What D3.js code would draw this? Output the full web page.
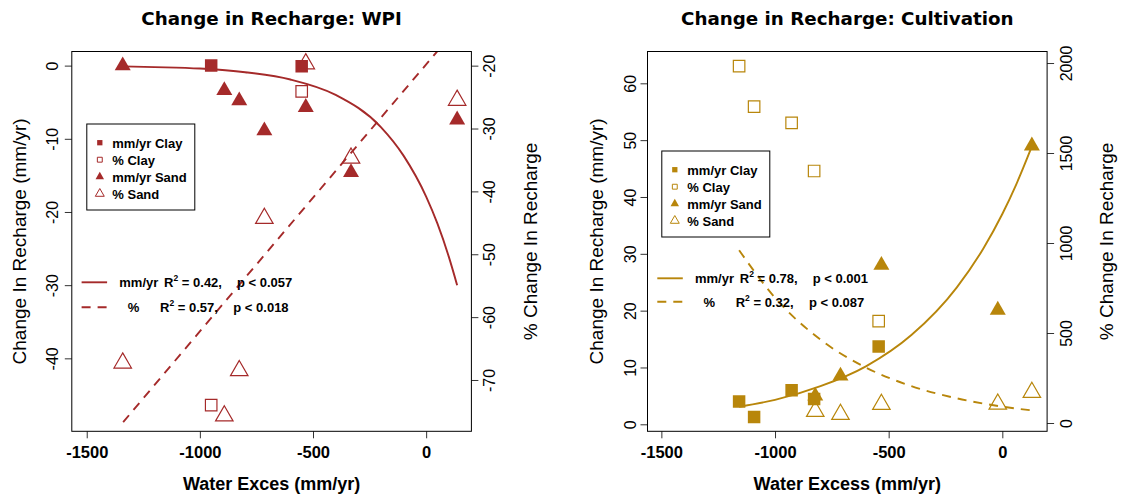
<!DOCTYPE html>
<html>
<head>
<meta charset="utf-8">
<script src="https://cdn.jsdelivr.net/npm/d3@7"></script>
<style>
    body { margin: 0; background: #fff; }
    svg text { font-family: "Liberation Sans", Arial, sans-serif; fill: #000; }
</style>
</head>
<body>
<div id="chart"></div>
<script>
var xTicks = [-1500, -1000, -500, 0];
var legendLabels = ["mm/yr Clay", "% Clay", "mm/yr Sand", "% Sand"];
var statLabels = ["mm/yr", "%"];

// WPI panel
var wpiYTicks = [0, -10, -20, -30, -40];
var wpiY2Ticks = [-20, -30, -40, -50, -60, -70];
var wpiClayX = [-950, -550];
var wpiClayMm = [0, -0.1];
var wpiClayPct = [-74.0, -24.1];
var wpiSandX = [-1341, -892, -826, -715, -532, -332, 137];
var wpiSandMm = [0, -3.4, -4.8, -8.9, -5.7, -14.6, -7.4];
var wpiSandPct = [-67.3, -75.7, -68.5, -44.3, -19.7, -34.7, -25.5];
var wpiFitMmX = [-1340, -1200, -1000, -800, -600, -400, -200, -100, 0, 50, 100, 137];
var wpiFitMm = [-0.1, -0.2, -0.4, -0.9, -1.9, -4.0, -8.4, -12.3, -17.9, -21.6, -26.1, -30];
var wpiFitPctX = [-1339, -700, 137];
var wpiFitPct = [-76.7, -49.5, -14.0];
var wpiR2 = ["0.42", "0.57"];
var wpiP = ["0.057", "0.018"];

// Cultivation panel
var cultYTicks = [0, 10, 20, 30, 40, 50, 60];
var cultY2Ticks = [0, 500, 1000, 1500, 2000];
var cultClayX = [-1158, -1092, -927, -828, -544];
var cultClayMm = [4.0, 1.3, 6.0, 4.45, 13.7];
var cultClayPct = [1983, 1758, 1667, 1400, 566];
var cultSandX = [-823, -712, -532, -20, 130];
var cultSandMm = [5.0, 8.5, 28.0, 20.1, 49.0];
var cultSandPct = [65, 48, 104, 105, 170];
var cultFitMmX = [-1158, -1000, -800, -600, -400, -200, -84, 0, 60, 130];
var cultFitMm = [3.1, 4.3, 6.7, 10.2, 15.7, 24.1, 30.9, 37.0, 42.1, 48.9];
var cultFitPctX = [-1158, -1000, -800, -600, -400, -200, 0, 130];
var cultFitPct = [960, 696, 463, 308, 205, 137, 91, 70];
var cultR2 = ["0.78", "0.32"];
var cultP = ["0.001", "0.087"];

var svg = d3.select("#chart")
    .append("svg")
        .attr("width", 1128)
        .attr("height", 502);

svg.append("rect").attr("width", 1128).attr("height", 502).attr("fill", "#fff");

function zip(xs, ys) {
    return xs.map(function(v, i) { return [v, ys[i]]; });
}

function drawPanel(p) {
    var g = svg.append("g");
    var x = d3.scaleLinear().domain(p.xDomain).range([p.x0, p.x1]);
    var y = d3.scaleLinear().domain(p.yDomain).range([p.y1, p.y0]);
    var y2 = d3.scaleLinear().domain(p.y2Domain).range([p.y1, p.y0]);
    var fmt = function(d) { return String(d); };

    svg.append("clipPath").attr("id", p.id + "-clip")
        .append("rect")
        .attr("x", p.x0).attr("y", p.y0)
        .attr("width", p.x1 - p.x0).attr("height", p.y1 - p.y0);

    // title
    g.append("text")
        .attr("x", (p.x0 + p.x1) / 2)
        .attr("y", 25)
        .attr("text-anchor", "middle")
        .style("font-family", "'DejaVu Sans', sans-serif")
        .style("font-size", "18.3px")
        .style("font-weight", "bold")
        .text(p.title);

    // x axis
    var xa = g.append("g")
        .attr("transform", "translate(0," + p.y1 + ")")
        .call(d3.axisBottom(x).tickValues(xTicks).tickFormat(fmt).tickSize(7).tickSizeOuter(0));
    xa.select(".domain").remove();
    xa.selectAll("text")
        .attr("y", 27).attr("dy", 0)
        .style("font-size", "16.5px")
        .style("font-weight", "bold");

    // left axis
    var ya = g.append("g")
        .attr("transform", "translate(" + p.x0 + ",0)")
        .call(d3.axisLeft(y).tickValues(p.yTicks).tickFormat(fmt).tickSize(7).tickSizeOuter(0));
    ya.select(".domain").remove();
    ya.selectAll("text")
        .attr("transform", "rotate(-90)")
        .attr("x", 0).attr("dy", 0)
        .attr("y", -p.lOff + 5.8)
        .attr("text-anchor", "middle")
        .style("font-size", "16px");

    // right axis
    var y2a = g.append("g")
        .attr("transform", "translate(" + p.x1 + ",0)")
        .call(d3.axisRight(y2).tickValues(p.y2Ticks).tickFormat(fmt).tickSize(7).tickSizeOuter(0));
    y2a.select(".domain").remove();
    y2a.selectAll("text")
        .attr("transform", "rotate(-90)")
        .attr("x", 0).attr("dy", 0)
        .attr("y", p.rOff + 5.8)
        .attr("text-anchor", "middle")
        .style("font-size", "16px");

    g.selectAll(".tick line").attr("stroke", "#333");

    // axis titles
    g.append("text")
        .attr("x", (p.x0 + p.x1) / 2)
        .attr("y", 490)
        .attr("text-anchor", "middle")
        .style("font-size", "18px")
        .style("font-weight", "bold")
        .text(p.xLabel);

    g.append("text")
        .attr("transform", "translate(" + p.lLabelX + "," + ((p.y0 + p.y1) / 2) + ") rotate(-90)")
        .attr("text-anchor", "middle")
        .style("font-size", "19px")
        .text("Change In Recharge (mm/yr)");

    g.append("text")
        .attr("transform", "translate(" + p.rLabelX + "," + ((p.y0 + p.y1) / 2) + ") rotate(-90)")
        .attr("text-anchor", "middle")
        .style("font-size", "19px")
        .text("% Change In Recharge");

    // fitted curves
    var plot = g.append("g").attr("clip-path", "url(#" + p.id + "-clip)");
    var lineMm = d3.line().x(function(d) { return x(d[0]); }).y(function(d) { return y(d[1]); })
        .curve(d3.curveMonotoneX);
    var linePct = d3.line().x(function(d) { return x(d[0]); }).y(function(d) { return y2(d[1]); })
        .curve(d3.curveMonotoneX);

    plot.append("path")
        .datum(zip(p.fitMmX, p.fitMm))
        .attr("d", lineMm)
        .attr("fill", "none")
        .attr("stroke", p.colour)
        .attr("stroke-width", 1.9);

    plot.append("path")
        .datum(zip(p.fitPctX, p.fitPct))
        .attr("d", linePct)
        .attr("fill", "none")
        .attr("stroke", p.colour)
        .attr("stroke-width", 1.9)
        .attr("stroke-dasharray", "9,7");

    var sqFill = d3.symbol(d3.symbolSquare, 12.5 * 12.5);
    var sqOpen = d3.symbol(d3.symbolSquare, 11.5 * 11.5);
    var trFill = d3.symbol(d3.symbolTriangle, 0.433 * 16 * 16);
    var trOpen = d3.symbol(d3.symbolTriangle, 0.433 * 17.5 * 17.5);

    // points
    plot.selectAll(".clay-mm")
        .data(zip(p.clayX, p.clayMm))
        .enter().append("path")
        .attr("transform", function(d) { return "translate(" + x(d[0]) + "," + y(d[1]) + ")"; })
        .attr("d", sqFill)
        .attr("fill", p.colour);

    plot.selectAll(".sand-mm")
        .data(zip(p.sandX, p.sandMm))
        .enter().append("path")
        .attr("transform", function(d) { return "translate(" + x(d[0]) + "," + y(d[1]) + ")"; })
        .attr("d", trFill)
        .attr("fill", p.colour);

    plot.selectAll(".clay-pct")
        .data(zip(p.clayX, p.clayPct))
        .enter().append("path")
        .attr("transform", function(d) { return "translate(" + x(d[0]) + "," + y2(d[1]) + ")"; })
        .attr("d", sqOpen)
        .attr("fill", "none")
        .attr("stroke", p.colour)
        .attr("stroke-width", 1.2);

    plot.selectAll(".sand-pct")
        .data(zip(p.sandX, p.sandPct))
        .enter().append("path")
        .attr("transform", function(d) { return "translate(" + x(d[0]) + "," + y2(d[1]) + ")"; })
        .attr("d", trOpen)
        .attr("fill", "none")
        .attr("stroke", p.colour)
        .attr("stroke-width", 1.2);

    // plot box
    g.append("rect")
        .attr("x", p.x0).attr("y", p.y0)
        .attr("width", p.x1 - p.x0).attr("height", p.y1 - p.y0)
        .attr("fill", "none")
        .attr("stroke", "#000")
        .attr("stroke-width", 1);

    // symbol legend
    var lg = g.append("g").attr("transform", "translate(" + p.legX + "," + p.legY + ")");
    lg.append("rect")
        .attr("width", 108).attr("height", 86)
        .attr("fill", "#fff")
        .attr("stroke", "#000");
    var legSyms = [
        { d: d3.symbol(d3.symbolSquare, 28)(), fill: p.colour, stroke: "none" },
        { d: d3.symbol(d3.symbolSquare, 24)(), fill: "none", stroke: p.colour },
        { d: d3.symbol(d3.symbolTriangle, 0.433 * 72)(), fill: p.colour, stroke: "none" },
        { d: d3.symbol(d3.symbolTriangle, 0.433 * 80)(), fill: "none", stroke: p.colour }
    ];
    legendLabels.forEach(function(lab, i) {
        var ry = 18.7 + i * 17;
        lg.append("path")
            .attr("transform", "translate(13," + ry + ")")
            .attr("d", legSyms[i].d)
            .attr("fill", legSyms[i].fill)
            .attr("stroke", legSyms[i].stroke)
            .attr("stroke-width", 1);
        lg.append("text")
            .attr("x", 25.5).attr("y", ry + 4.8)
            .style("font-size", "13px")
            .style("font-weight", "bold")
            .text(lab);
    });

    // fit legend
    statLabels.forEach(function(lab, i) {
        var ry = p.statY[i];
        var sg = g.append("g").attr("transform", "translate(" + p.x0 + "," + ry + ")");
        var ln = sg.append("line")
            .attr("x1", 9.8).attr("x2", 35.3)
            .attr("y1", 0).attr("y2", 0)
            .attr("stroke", p.colour)
            .attr("stroke-width", 1.9);
        if (i == 1) ln.attr("stroke-dasharray", "9,7");

        var t = sg.append("text")
            .attr("y", 4.8)
            .style("font-size", "13px")
            .style("font-weight", "bold");
        t.append("tspan").attr("x", i == 0 ? 47.5 : 56).text(lab);
        t.append("tspan").attr("x", i == 0 ? 92.3 : 88.2).text("R");
        t.append("tspan").attr("dy", -6).style("font-size", "8.5px").text("2");
        t.append("tspan").attr("dy", 6).text(" = " + p.r2[i] + ",");
        t.append("tspan").attr("x", i == 0 ? 165.2 : 161.5).text("p < " + p.pv[i]);
    });
}

drawPanel({
    id: "wpi",
    title: "Change in Recharge: WPI",
    xLabel: "Water Exces (mm/yr)",
    colour: "#A52A2A",
    x0: 71.8, x1: 471.4, y0: 51.5, y1: 431.3,
    xDomain: [-1566, 200],
    yDomain: [-49.97, 1.93],
    y2Domain: [-78.16, -17.75],
    yTicks: wpiYTicks,
    y2Ticks: wpiY2Ticks,
    lOff: 20, rOff: 17.5,
    lLabelX: 26, rLabelX: 537,
    clayX: wpiClayX, clayMm: wpiClayMm, clayPct: wpiClayPct,
    sandX: wpiSandX, sandMm: wpiSandMm, sandPct: wpiSandPct,
    fitMmX: wpiFitMmX, fitMm: wpiFitMm,
    fitPctX: wpiFitPctX, fitPct: wpiFitPct,
    r2: wpiR2, pv: wpiP,
    legX: 86.8, legY: 124,
    statY: [282.3, 307.3]
});

drawPanel({
    id: "cult",
    title: "Change in Recharge: Cultivation",
    xLabel: "Water Excess (mm/yr)",
    colour: "#B8860B",
    x0: 647.5, x1: 1047.1, y0: 51.5, y1: 431.3,
    xDomain: [-1561, 197],
    yDomain: [-1.23, 65.6],
    y2Domain: [-46.1, 2064],
    yTicks: cultYTicks,
    y2Ticks: cultY2Ticks,
    lOff: 17, rOff: 18.7,
    lLabelX: 603, rLabelX: 1113,
    clayX: cultClayX, clayMm: cultClayMm, clayPct: cultClayPct,
    sandX: cultSandX, sandMm: cultSandMm, sandPct: cultSandPct,
    fitMmX: cultFitMmX, fitMm: cultFitMm,
    fitPctX: cultFitPctX, fitPct: cultFitPct,
    r2: cultR2, pv: cultP,
    legX: 661.8, legY: 151,
    statY: [278.3, 301.7]
});
</script>
</body>
</html>
